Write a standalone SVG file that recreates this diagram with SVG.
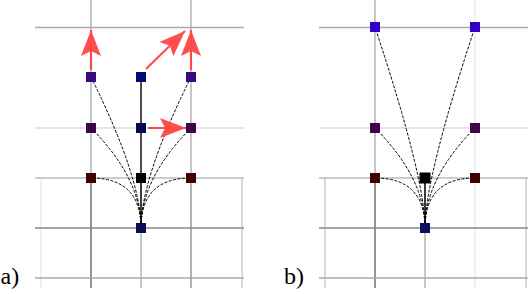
<svg xmlns="http://www.w3.org/2000/svg" width="528" height="294" viewBox="0 0 528 294">
<style>
.g1{stroke:#aaaaaa;stroke-width:1.3;fill:none}
.g2{stroke:#dddddd;stroke-width:1.3;fill:none}
.g3{stroke:#bbbbbb;stroke-width:1.5;fill:none}
.g4{stroke:#888888;stroke-width:1.3;fill:none}
.g5{stroke:#6f6f6f;stroke-width:1.5;fill:none}
.g6{stroke:#ececec;stroke-width:1.5;fill:none}
.g7{stroke:#cccccc;stroke-width:1.5;fill:none}
.c{stroke:#000;stroke-width:1;fill:none;stroke-dasharray:3 1.5}
.s{stroke:#000;stroke-width:1.4;fill:none}
.ar{stroke:#ff3f3f;stroke-width:2.2;fill:none}
.lbl{font-family:"Liberation Serif","Times New Roman",serif;font-size:24px;fill:#000}
</style>
<defs>
<marker id="ah" markerUnits="userSpaceOnUse" viewBox="-1 -11 28 22" refX="26" refY="0" markerWidth="28" markerHeight="22" orient="auto" overflow="visible">
<path d="M0,-10 L26,0 L0,10 L5,0 Z" fill="#ff3f3f"/>
</marker>
</defs>
<g id="grid">
<!-- panel a -->
<line class="g1" x1="35" y1="27.5" x2="244" y2="27.5"/>
<line class="g2" x1="35" y1="128" x2="244" y2="128"/>
<line class="g1" x1="91" y1="0" x2="91" y2="178"/>
<line class="g1" x1="191" y1="0" x2="191" y2="178"/>
<line class="g6" x1="41" y1="178" x2="41" y2="288"/>
<line class="g7" x1="242" y1="178" x2="242" y2="288"/>
<line class="g1" x1="141" y1="178" x2="141" y2="288"/>
<line class="g5" x1="91" y1="178" x2="91" y2="288"/>
<line class="g4" x1="191" y1="178" x2="191" y2="288"/>
<line class="g3" x1="35" y1="178" x2="244" y2="178"/>
<line class="g4" x1="35" y1="228" x2="244" y2="228"/>
<line class="g1" x1="35" y1="278" x2="244" y2="278"/>
<!-- panel b -->
<line class="g1" x1="319" y1="27.5" x2="528" y2="27.5"/>
<line class="g2" x1="319" y1="128" x2="528" y2="128"/>
<line class="g1" x1="375" y1="0" x2="375" y2="178"/>
<line class="g6" x1="475" y1="0" x2="475" y2="288"/>
<line class="g7" x1="325" y1="178" x2="325" y2="288"/>
<line class="g7" x1="526" y1="178" x2="526" y2="288"/>
<line class="g1" x1="425" y1="178" x2="425" y2="288"/>
<line class="g5" x1="375" y1="178" x2="375" y2="288"/>
<line class="g3" x1="319" y1="178" x2="528" y2="178"/>
<line class="g4" x1="319" y1="228" x2="528" y2="228"/>
<line class="g1" x1="319" y1="278" x2="528" y2="278"/>
</g>
<g id="connectors">
<path class="s" d="M141,228 L141,77"/>
<path class="c" d="M141,228 Q141,178 91,178"/>
<path class="c" d="M141,228 Q141,178 191,178"/>
<path class="c" d="M141,228 Q141,178 91,128"/>
<path class="c" d="M141,228 Q141,178 191,128"/>
<path class="c" d="M141,228 Q141,178 91,77"/>
<path class="c" d="M141,228 Q141,178 191,77"/>
<path class="s" d="M425,228 L425,178"/>
<path class="c" d="M425,228 Q425,178 375,178"/>
<path class="c" d="M425,228 Q425,178 475,178"/>
<path class="c" d="M425,228 Q425,178 375,128"/>
<path class="c" d="M425,228 Q425,178 475,128"/>
<path class="c" d="M425,228 Q425,178 375,27"/>
<path class="c" d="M425,228 Q425,178 475,27"/>
</g>
<g id="a-n1"><rect x="86" y="72" width="10" height="10" fill="#3a0a80"/></g>
<g id="a-n2"><rect x="136" y="72" width="10" height="10" fill="#020a7a"/></g>
<g id="a-n3"><rect x="186" y="72" width="10" height="10" fill="#3a0a80"/></g>
<g id="a-n4"><rect x="86" y="123" width="10" height="10" fill="#3a0848"/></g>
<g id="a-n5"><rect x="136" y="123" width="10" height="10" fill="#050a48"/></g>
<g id="a-n6"><rect x="186" y="123" width="10" height="10" fill="#3a0848"/></g>
<g id="a-n7"><rect x="86" y="173" width="10" height="10" fill="#420000"/></g>
<g id="a-n8"><rect x="136" y="173" width="10" height="10" fill="#000000"/></g>
<g id="a-n9"><rect x="186" y="173" width="10" height="10" fill="#420000"/></g>
<g id="a-root"><rect x="136" y="223" width="10" height="10" fill="#0c0c55"/></g>
<g id="b-n1"><rect x="370" y="22" width="10" height="10" fill="#3500c8"/></g>
<g id="b-n2"><rect x="470" y="22" width="10" height="10" fill="#3500c8"/></g>
<g id="b-n3"><rect x="370" y="123" width="10" height="10" fill="#3c0848"/></g>
<g id="b-n4"><rect x="470" y="123" width="10" height="10" fill="#3c0848"/></g>
<g id="b-n5"><rect x="370" y="173" width="10" height="10" fill="#420000"/></g>
<g id="b-n6"><rect x="419.5" y="172.5" width="11" height="11" fill="#000000"/></g>
<g id="b-n7"><rect x="470" y="173" width="10" height="10" fill="#420000"/></g>
<g id="b-root"><rect x="420" y="223" width="10" height="10" fill="#10105a"/></g>
<g id="arrows" opacity="0.92">
<line class="ar" x1="91" y1="70" x2="91" y2="30" marker-end="url(#ah)"/>
<line class="ar" x1="146" y1="69" x2="185" y2="31" marker-end="url(#ah)"/>
<line class="ar" x1="191" y1="70" x2="191" y2="30" marker-end="url(#ah)"/>
<line class="ar" x1="148" y1="128" x2="186" y2="128" marker-end="url(#ah)"/>
</g>
<g id="labels">
<text class="lbl" x="0.5" y="283.5">a)</text>
<text class="lbl" x="284" y="283.5">b)</text>
</g>
</svg>
